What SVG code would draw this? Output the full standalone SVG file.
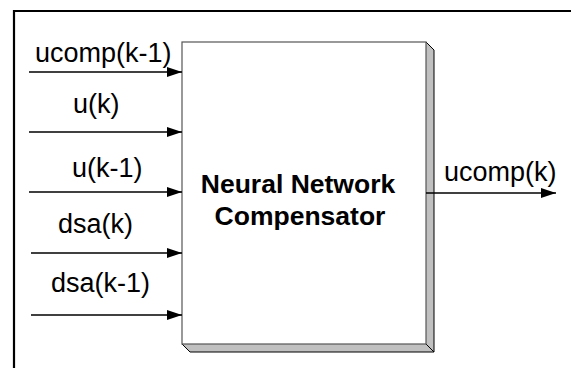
<svg xmlns="http://www.w3.org/2000/svg" width="571" height="368" viewBox="0 0 571 368">
<defs>
<marker id="ah" markerWidth="15" markerHeight="10" refX="15" refY="5" orient="auto" markerUnits="userSpaceOnUse">
<path d="M0,0 L15,5 L0,10 Z" fill="#000"/>
</marker>
<style>
.lbl{font-family:"Liberation Sans",Arial,sans-serif;font-size:27px;fill:#000}
.ttl{font-family:"Liberation Sans",Arial,sans-serif;font-size:26.5px;font-weight:bold;fill:#000;text-anchor:middle}
.conn{stroke:#000;stroke-width:1.3;fill:none;marker-end:url(#ah)}
</style>
</defs>
<rect width="571" height="368" fill="#fff"/>
<g id="frame">
<path d="M14,368 L14,11 L571,11" fill="none" stroke="#000" stroke-width="2.2"/>
</g>
<g id="compensator">
<polygon points="426,42 434,50 434,352 190,352 182,344 426,344" fill="#c0c0c0"/>
<path d="M426,42 L434,50 L434,352 L190,352 L182,344" fill="none" stroke="#000" stroke-width="1"/>
<path d="M426,344 L434,352" fill="none" stroke="#000" stroke-width="1"/>
<rect x="182" y="42" width="244" height="302" fill="#fff" stroke="#555" stroke-width="1.2"/>
<text class="ttl" x="298" y="193">Neural Network</text>
<text class="ttl" x="300" y="225">Compensator</text>
</g>
<g id="connectors">
<line class="conn" x1="29" y1="72" x2="182" y2="72"/>
<line class="conn" x1="29" y1="132" x2="182" y2="132"/>
<line class="conn" x1="29" y1="192" x2="182" y2="192"/>
<line class="conn" x1="31" y1="253" x2="182" y2="253"/>
<line class="conn" x1="31" y1="315" x2="182" y2="315"/>
<line class="conn" x1="426" y1="193" x2="556" y2="193"/>
</g>
<g id="labels">
<text class="lbl" x="35" y="62">ucomp(k-1)</text>
<text class="lbl" x="73" y="113">u(k)</text>
<text class="lbl" x="72" y="177">u(k-1)</text>
<text class="lbl" x="58" y="233">dsa(k)</text>
<text class="lbl" x="51" y="292">dsa(k-1)</text>
<text class="lbl" x="444" y="181">ucomp(k)</text>
</g>
</svg>
